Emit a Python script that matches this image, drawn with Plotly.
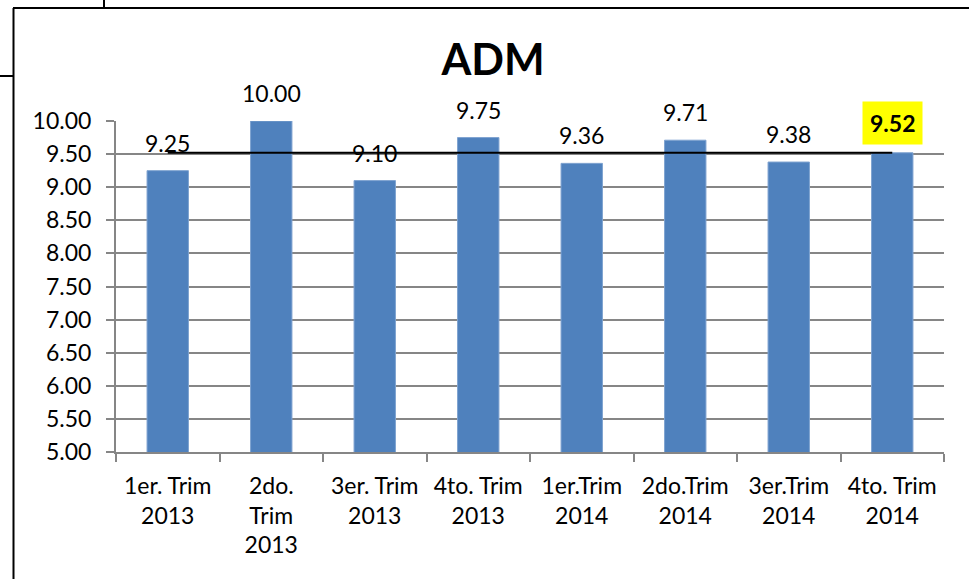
import plotly.graph_objects as go

# Datos
trimestres = ["1er. Trim<br>2013", "2do.<br>Trim<br>2013", "3er. Trim<br>2013", "4to. Trim<br>2013",
              "1er.Trim<br>2014", "2do.Trim<br>2014", "3er.Trim<br>2014", "4to. Trim<br>2014"]
puntajes = [9.25, 10.00, 9.10, 9.75, 9.36, 9.71, 9.38, 9.52]
promedio = [9.52] * len(trimestres)
y_ticks = [5.0, 5.5, 6.0, 6.5, 7.0, 7.5, 8.0, 8.5, 9.0, 9.5, 10.0]

FONT = "Lato"
W, H = 969, 579
L, R, T, B = 116, 25, 121, 127
pw, ph = W - L - R, H - T - B


def px(x):
    return (x - L) / pw


def py(y):
    return (H - B - y) / ph


fig = go.Figure()

fig.add_trace(go.Bar(
    x=trimestres, y=puntajes, width=0.4,
    marker=dict(color="#4F81BD", line=dict(color="#7FA3D0", width=1)),
    showlegend=False, hoverinfo="x+y"
))

fig.add_trace(go.Scatter(
    x=trimestres, y=promedio, mode="lines",
    line=dict(color="black", width=2), showlegend=False
))

# etiquetas de datos
for i, (cat, val) in enumerate(zip(trimestres, puntajes)):
    ultimo = i == len(puntajes) - 1
    fig.add_annotation(
        x=cat, y=val, text=f"<b>{val:.2f}</b>" if ultimo else f"{val:.2f}",
        showarrow=False, yanchor="bottom", yshift=8 if ultimo else 13,
        font=dict(family=FONT, size=23, color="black"),
        bgcolor="#FFFF00" if ultimo else None,
        borderpad=7 if ultimo else 0
    )

fig.update_layout(
    width=W, height=H,
    margin=dict(l=L, r=R, t=T, b=B),
    paper_bgcolor="white", plot_bgcolor="white",
    font=dict(family=FONT, size=23, color="black"),
    title=dict(text="<b>ADM</b>", x=493 / W, xref="container", xanchor="center",
               y=1 - 60 / H, yref="container", yanchor="middle",
               font=dict(family=FONT, size=43, color="black")),
    xaxis=dict(type="category", showline=True, linecolor="#868686", linewidth=2,
               ticks="outside", tickson="boundaries", ticklen=8, tickcolor="#868686",
               tickwidth=2, showgrid=False, ticklabelstandoff=12, tickfont=dict(size=23)),
    yaxis=dict(range=[5, 10], tickvals=y_ticks, tickformat=".2f",
               showline=True, linecolor="#868686", linewidth=2,
               ticks="outside", ticklen=8, tickcolor="#868686", tickwidth=2,
               showgrid=True, gridcolor="#868686", gridwidth=1.5,
               ticklabelstandoff=10, zeroline=False, tickfont=dict(size=23)),
    bargap=0.6,
)

# marco del gráfico
borde = dict(color="black", width=2)
for x0, y0, x1, y1 in [(13.5, 8, 13.5, H), (13, 8, W, 8), (104, 0, 104, 8), (0, 76, 13, 76)]:
    fig.add_shape(type="line", xref="paper", yref="paper",
                  x0=px(x0), y0=py(y0), x1=px(x1), y1=py(y1), line=borde)

fig.write_html("out.html", config={"displayModeBar": False},
               post_script="document.body.style.margin='0';")
